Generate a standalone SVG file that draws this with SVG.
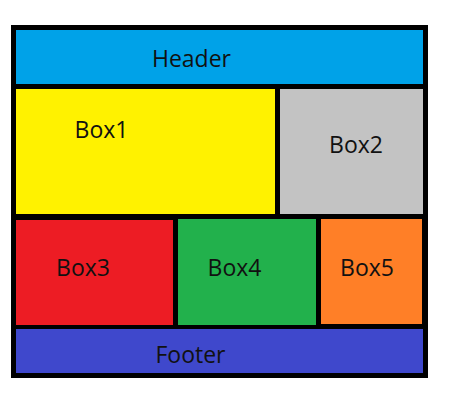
<svg xmlns="http://www.w3.org/2000/svg" width="450" height="400" viewBox="0 0 450 400">
<style>
text{font-family:"Open Sans","Liberation Sans",sans-serif;font-size:23px;fill:#111;text-anchor:middle}
</style>
<rect width="450" height="400" fill="#fff"/>
<rect id="frame" x="11" y="25" width="417" height="353" fill="#000"/>
<g id="header"><rect x="16" y="30" width="407" height="54" fill="#00A2E8"/><text x="191.5" y="67">Header</text></g>
<g id="box1"><rect x="16" y="89" width="259" height="125" fill="#FFF200"/><text x="101.5" y="138">Box1</text></g>
<g id="box2"><rect x="280" y="89" width="143" height="125" fill="#C3C3C3"/><text x="356" y="153">Box2</text></g>
<g id="box3"><rect x="16" y="220" width="157" height="105" fill="#ED1C24"/><text x="83" y="276">Box3</text></g>
<g id="box4"><rect x="178" y="219" width="138" height="106" fill="#22B14C"/><text x="234.5" y="276">Box4</text></g>
<g id="box5"><rect x="321" y="219" width="101" height="105" fill="#FF7F27"/><text x="367" y="276">Box5</text></g>
<g id="footer"><rect x="16" y="329" width="407" height="44" fill="#3F48CC"/><text x="190.5" y="363">Footer</text></g>
<g id="connectors"></g>
</svg>
